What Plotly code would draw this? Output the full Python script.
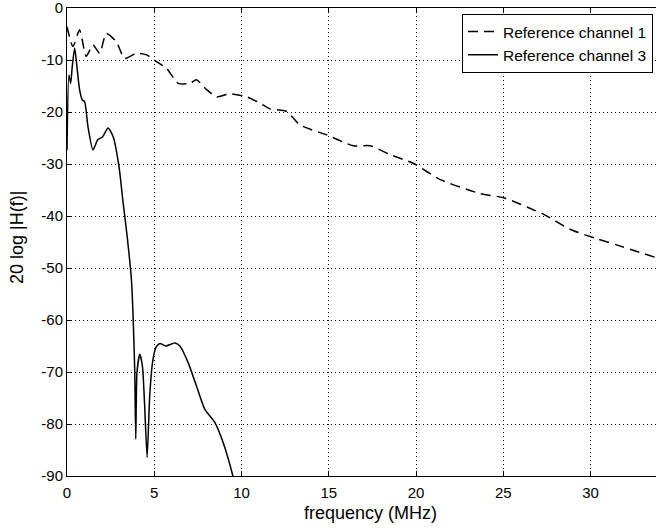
import plotly.graph_objects as go

# Reference channel 1 (dashed)
f1 = [0.0, 0.34, 0.72, 1.1, 1.49, 1.87, 2.25, 2.83, 3.3, 3.98, 4.55, 5.13, 5.7, 6.37,
      7.04, 7.42, 8.0, 8.57, 9.33, 10.3, 11.06, 11.63, 12.59, 13.35, 14.88, 16.41,
      17.37, 18.52, 19.86, 21.39, 23.69, 25.02, 27.32, 28.85, 30.38, 31.53, 33.75]
h1 = [-3.6, -7.4, -4.2, -9.3, -7.1, -8.7, -4.9, -6.5, -9.7, -8.7, -9.0, -10.3, -11.6, -14.5,
      -14.5, -13.8, -15.7, -17.1, -16.5, -17.1, -18.3, -19.4, -19.9, -22.5, -24.4, -26.5,
      -26.5, -28.2, -29.9, -33.0, -35.7, -36.5, -39.7, -42.6, -44.4, -45.6, -48.0]

# Reference channel 3 (solid)
f3 = [0.0, 0.11, 0.21, 0.3, 0.44, 0.57, 0.72, 0.88, 1.01, 1.2, 1.49, 1.77, 2.03, 2.35,
      2.64, 2.98, 3.2, 3.45, 3.69, 3.78, 3.88, 3.94, 4.01, 4.17, 4.32, 4.45, 4.59,
      4.74, 4.9, 5.09, 5.32, 5.66, 6.18, 6.47, 6.94, 7.42, 7.9, 8.47, 8.95, 9.49, 9.7]
h3 = [-27.3, -12.9, -14.5, -11.3, -7.7, -11.3, -15.7, -17.7, -18.0, -22.8, -27.3, -25.3,
      -24.8, -23.1, -24.7, -30.5, -37.0, -44.0, -52.2, -58.6, -69.5, -82.9, -70.1, -66.6,
      -68.8, -76.5, -86.4, -74.6, -68.2, -65.3, -64.5, -65.0, -64.4, -65.0, -68.2, -72.7,
      -77.2, -79.7, -83.6, -89.8, -93.0]

xticks = [0, 5, 10, 15, 20, 25, 30]
yticks = [0, -10, -20, -30, -40, -50, -60, -70, -80, -90]

FONT = "Liberation Sans, Arial, sans-serif"
W, H = 656, 529
L, R, T, B = 67, 0, 8, 53

fig = go.Figure()
fig.add_trace(go.Scatter(x=f1, y=h1, mode="lines", name="Reference channel 1",
                         line=dict(color="black", width=1.5, dash="10px,6px", shape="spline", smoothing=0.6)))
fig.add_trace(go.Scatter(x=f3, y=h3, mode="lines", name="Reference channel 3",
                         line=dict(color="black", width=1.5, shape="spline", smoothing=0.6)))

common = dict(showline=True, linecolor="black", linewidth=1,
              ticks="inside", ticklen=5, tickcolor="black", showgrid=True,
              gridcolor="black", griddash="1px,3px", gridwidth=1, zeroline=False,
              automargin=False, ticklabeloverflow="allow",
              tickfont=dict(family=FONT, size=15, color="black"))

fig.update_xaxes(range=[0, 33.75], tickvals=xticks, ticktext=[str(v) for v in xticks],
                 mirror="allticks", ticklabelstandoff=3, **common)
fig.update_yaxes(range=[-90, 0], tickvals=yticks, ticktext=[str(v) for v in yticks],
                 mirror=False, **common)

fig.add_annotation(text="frequency (MHz)", xref="paper", yref="paper",
                   x=(370 - L) / (W - L - R), y=-(513 - (H - B)) / (H - T - B),
                   xanchor="center", yanchor="middle", showarrow=False,
                   font=dict(family=FONT, size=18, color="black"))
fig.add_annotation(text="20 log |H(f)|", xref="paper", yref="paper",
                   x=-(L - 17) / (W - L - R), y=((H - B) - 238) / (H - T - B),
                   xanchor="center", yanchor="middle", textangle=-90, showarrow=False,
                   font=dict(family=FONT, size=18, color="black"))

fig.update_layout(width=W, height=H, paper_bgcolor="white", plot_bgcolor="white",
                  margin=dict(l=L, r=R, t=T, b=B),
                  legend=dict(x=(653 - L) / (W - L - R), y=1 - 6 / (H - T - B),
                              xanchor="right", yanchor="top",
                              bordercolor="black", borderwidth=1, bgcolor="white",
                              font=dict(family=FONT, size=15.5, color="black"),
                              tracegroupgap=0),
                  showlegend=True)

fig.write_html("out.html", config={"displayModeBar": False},
               post_script="document.body.style.margin='0';document.body.style.overflow='hidden';")
